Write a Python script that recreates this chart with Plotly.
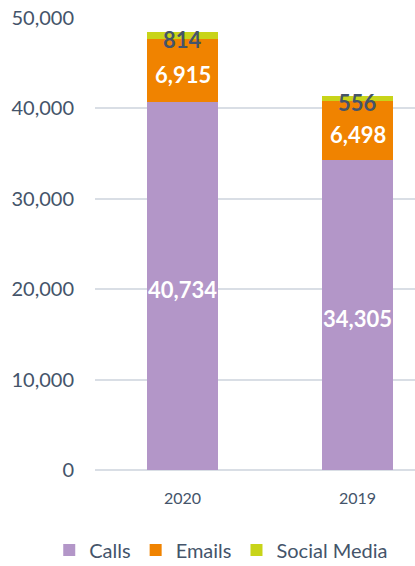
import plotly.graph_objects as go

years = ["2020", "2019"]
calls = [40734, 34305]
emails = [6915, 6498]
social = [814, 556]
y_ticks = [0, 10000, 20000, 30000, 40000, 50000]

FONT = "Lato, 'Open Sans', sans-serif"
TXT = "#44546A"

fig = go.Figure()
fig.add_bar(name="Calls", x=years, y=calls, marker_color="#B396C8", marker_line_width=0)
fig.add_bar(name="Emails", x=years, y=emails, marker_color="#F08300", marker_line_width=0)
fig.add_bar(name="Social Media", x=years, y=social, marker_color="#C8D419", marker_line_width=0)

# data labels positioned from the data (category index, stacked midpoints)
calls_mid = [c / 2 for c in calls]
emails_mid = [c + e / 2 for c, e in zip(calls, emails)]
social_mid = [c + e + s / 2 for c, e, s in zip(calls, emails, social)]
ann = []
for ys, vals, col in [(calls_mid, calls, "white"), (emails_mid, emails, "white"), (social_mid, social, TXT)]:
    for i in range(len(years)):
        ann.append(dict(x=i, y=ys[i], xref="x", yref="y", text=f"<b>{vals[i]:,}</b>",
                        showarrow=False, yshift=-4,
                        font=dict(family=FONT, size=22, color=col)))

fig.update_layout(
    barmode="stack",
    width=415, height=566,
    margin=dict(l=95, r=0, t=18, b=96, autoexpand=False),
    paper_bgcolor="white", plot_bgcolor="white",
    font=dict(family=FONT, color=TXT),
    bargap=0.59,
    annotations=ann,
    showlegend=True,
    legend=dict(orientation="h", xref="paper", x=-0.143, xanchor="left",
                y=-0.177, yanchor="middle",
                font=dict(size=20, color=TXT), traceorder="normal", itemwidth=30),
    xaxis=dict(type="category", range=[-0.5, 1.3286], tickfont=dict(size=16, color=TXT), showgrid=False,
               ticks="", showline=False, automargin=False, ticklabelstandoff=17),
    yaxis=dict(range=[0, 50000], tickvals=y_ticks, tickformat=",d",
               tickfont=dict(size=20, color=TXT), gridcolor="#D9DEE5", gridwidth=1.5,
               zeroline=True, zerolinecolor="#D9DEE5", zerolinewidth=2,
               ticklabelstandoff=20, showline=False, automargin=False),
)
fig.write_html("out.html", config={"displayModeBar": False},
               post_script="document.body.style.margin='0';")
